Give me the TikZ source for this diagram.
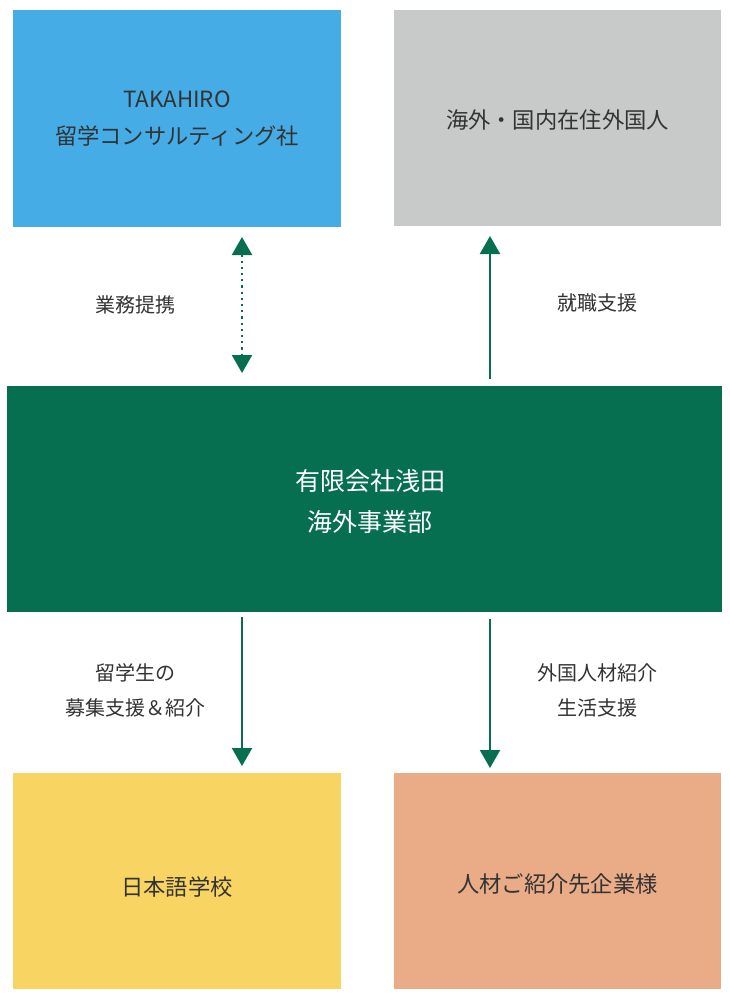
\documentclass[tikz,border=0pt]{standalone}
\usepackage{fontspec}
\setmainfont{Noto Sans CJK JP}
\usetikzlibrary{arrows.meta}
\definecolor{cblue}{HTML}{45ACE5}
\definecolor{cgray}{HTML}{C8C9C9}
\definecolor{cgreen}{HTML}{066F50}
\definecolor{cyellow}{HTML}{F8D462}
\definecolor{csalmon}{HTML}{E9AC87}
\definecolor{ctext}{HTML}{333333}
\tikzset{
  boxnode/.style={draw=none, minimum width=#1, inner sep=0pt, outer sep=0pt, align=center,
    text=ctext, font=\fontsize{22.3}{37}\selectfont},
  labelnode/.style={inner sep=0pt, align=center, text=ctext, font=\fontsize{20}{35}\selectfont},
  conn/.style={draw=cgreen, line width=2.2pt, -{Triangle[width=20pt,length=18pt]}},
  dotconn/.style={draw=cgreen, line width=2.4pt, dash pattern=on 2.2pt off 4pt,
    {Triangle[width=20pt,length=18pt]}-{Triangle[width=20pt,length=18pt]}},
}
\begin{document}
\begin{tikzpicture}[x=1pt,y=-1pt]
\useasboundingbox (0,0) rectangle (729,1000);
\fill[white] (0,0) rectangle (729,1000);
% boxes
\fill[cblue] (13,10) rectangle (341,227);
\fill[cgray] (394,10) rectangle (721,226);
\fill[cgreen] (7,386) rectangle (722,612);
\fill[cyellow] (13,773) rectangle (341,989);
\fill[csalmon] (394,773) rectangle (721,989);
\node[boxnode=328pt, minimum height=217pt] (blue) at (177,118.5) {TAKAHIRO\\留学コンサルティング社};
\node[boxnode=327pt, minimum height=216pt] (gray) at (557.5,120) {海外・国内在住外国人};
\node[boxnode=715pt, minimum height=226pt, text=white, font=\fontsize{25}{41}\selectfont] (green) at (370,502) {有限会社浅田\\海外事業部};
\node[boxnode=328pt, minimum height=216pt] (yellow) at (177,887) {日本語学校};
\node[boxnode=327pt, minimum height=216pt] (salmon) at (557.5,884) {人材ご紹介先企業様};
% labels
\node[labelnode] (l1) at (135,305) {業務提携};
\node[labelnode] (l2) at (597,303) {就職支援};
\node[labelnode] (l3) at (135,690) {留学生の\\募集支援＆紹介};
\node[labelnode] (l4) at (597,690) {外国人材紹介\\生活支援};
% arrow end points
\coordinate (a1) at (242,237);
\coordinate (a2) at (242,373);
\coordinate (b1) at (490,379);
\coordinate (b2) at (490,236);
\coordinate (c1) at (242,617);
\coordinate (c2) at (242,766);
\coordinate (d1) at (490,619);
\coordinate (d2) at (490,768);
\draw[dotconn] (a1) -- (a2);
\draw[conn] (b1) -- (b2);
\draw[conn] (c1) -- (c2);
\draw[conn] (d1) -- (d2);
\end{tikzpicture}
\end{document}
